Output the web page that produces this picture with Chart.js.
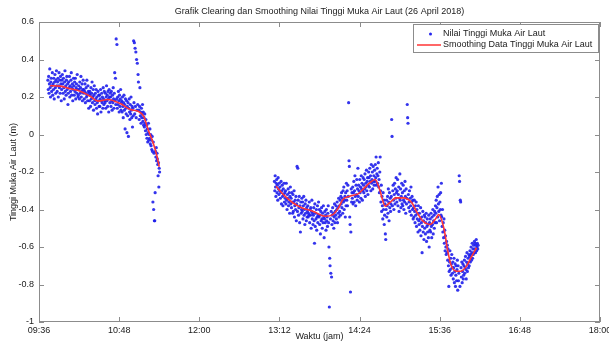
<!DOCTYPE html>
<html>
<head>
<meta charset="utf-8">
<script src="https://cdn.jsdelivr.net/npm/chart.js@4.4.1/dist/chart.umd.min.js"></script>
<style>
html, body { margin: 0; padding: 0; background: #fff; }
#wrap { width: 609px; height: 344px; }
</style>
</head>
<body>
<div id="wrap"><canvas id="chart" width="609" height="344"></canvas></div>
<script>
// tick labels
const xTickLabels = ['09:36', '10:48', '12:00', '13:12', '14:24', '15:36', '16:48', '18:00'];
const yTickLabels = ['-1', '-0.8', '-0.6', '-0.4', '-0.2', '0', '0.2', '0.4', '0.6'];

// raw sea level readings (cm), one every 20 s
const seg1Start = '09:44:00';
const seg1Cm = [
    29,24,31,22,27,35,25,20,28,30,23,26,33,21,27,
    24,30,19,28,32,25,22,29,34,26,
    23,28,30,20,26,33,25,29,22,31,27,18,24,29,32,
    27,22,30,25,19,28,34,23,26,21,29,31,24,27,16,
    22,28,25,31,20,26,23,29,33,21,25,27,18,24,30,
    26,21,28,23,30,19,25,27,22,32,24,20,
    21,26,24,19,28,22,25,31,20,23,27,18,24,29,22,
    24,19,23,27,17,22,25,20,29,21,18,26,23,14,22,
    18,23,21,15,25,19,22,28,17,20,24,13,21,26,18,
    16,22,19,24,14,20,17,11,23,18,21,15,
    21,15,19,24,12,18,22,17,20,14,25,19,16,23,18,
    17,22,14,20,26,18,21,15,23,19,12,24,20,17,22,
    20,15,23,18,13,21,17,25,19,14,22,33,18,30,16,
    51,19,48,14,20,16,23,18,12,21,15,19,24,13,17,
    18,12,20,15,9,17,21,13,16,3,19,14,11,18,1,
    15,10,17,-1,14,19,12,8,16,11,20,13,9,15,4,
    14,10,50,17,49,11,46,15,44,9,40,13,38,16,32,
    28,13,8,15,25,10,12,6,14,9,11,16,7,12,5,
    9,4,11,6,2,8,0,5,-2,3,-4,1,6,-3,0,
    -2,3,-5,0,-6,-3,-8,-1,-9,-36,-4,-40,-10,-46,-46,
    -31,-9,-12,-7,-14,-10,-13,-16,-22,-15,-28,-18,-20
];

const seg2Start = '13:07:30';
const seg2Cm = [
    -25,-30,-22,-28,-33,-26,-24,-31,-27,-35,-23,-29,-32,-26,-30,
    -28,-34,-31,-25,-37,-30,-27,-33,-38,-29,-32,-26,-36,-31,-34,
    -30,-37,-26,-35,-40,-32,-34,-29,-38,-36,-31,-42,-33,-28,-37,
    -34,-39,-31,-36,-42,-32,-41,-36,-30,-44,-38,-35,-40,-33,-46,
    -37,-17,-41,-18,-35,-43,-39,-33,-47,-38,-52,-36,-42,-40,-34,
    -41,-36,-45,-38,-33,-43,-40,-48,-37,-42,-35,-46,-39,-44,-41,
    -38,-44,-42,-43,-36,-47,-40,-43,-39,-50,-41,-35,-45,-42,-48,
    -43,-39,-46,-58,-37,-49,-42,-45,-40,-51,-44,-38,-47,-43,-36,
    -44,-40,-48,-43,-53,-41,-46,-39,-45,-50,-42,-47,-38,-44,-55,
    -45,-41,-47,-43,-51,-40,-46,-44,-49,-42,-38,-47,-60,-92,-66,
    -70,-45,-74,-41,-76,-48,-43,-39,-46,-42,-50,-44,-37,-47,-41,
    -43,-38,-45,-40,-36,-47,-39,-42,-34,-44,-38,-41,-35,-43,-33,
    -37,-31,-39,-34,-42,-30,-36,-28,-40,-35,-33,-44,-31,-38,-26,
    -35,-30,-38,-27,-33,17,-14,-17,-44,-48,-84,-52,-29,-36,-31,
    -34,-28,-37,-31,-25,-36,-30,-22,-33,-38,-27,-32,-24,-35,-29,
    -18,-33,-27,-30,-36,-24,-31,-28,-34,-22,-29,-26,-35,-30,-23,
    -27,-31,-24,-29,-21,-33,-26,-28,-19,-30,-25,-23,-32,-27,-20,
    -23,-28,-18,-25,-22,-30,-16,-26,-24,-20,-29,-17,-25,-22,-27,
    -19,-25,-16,-23,-12,-27,-21,-18,-26,-22,-15,-28,-24,-31,-20,
    -12,-30,-36,-27,-41,-33,-38,-45,-31,-40,-35,-48,-43,-37,-53,
    -56,-40,-35,-44,-38,-33,-42,-29,-36,-46,-31,-39,-34,-41,-37,
    -33,8,-1,-38,-30,-27,-35,-40,-32,-26,-37,-29,-34,-23,-31,
    -36,-30,-24,-38,-32,-28,-41,-34,-21,-35,-29,-39,-33,-26,-37,
    -31,-38,-27,-35,-40,-30,-36,-25,-33,-42,-29,-37,-34,16,9,
    6,-32,-39,-36,-30,-41,-34,-38,-28,-43,-36,-33,-40,-35,-45,
    -39,-44,-35,-41,-47,-38,-43,-36,-49,-40,-45,-42,-52,-38,-46,
    -48,-42,-51,-45,-39,-54,-47,-44,-63,-49,-41,-52,-46,-56,-43,
    -50,-44,-53,-47,-42,-57,-49,-45,-52,-48,-55,-43,-60,-47,-51,
    -45,-52,-42,-49,-55,-44,-48,-40,-53,-46,-43,-50,-41,-47,-38,
    -42,-35,-47,-39,-33,-44,-28,-37,-41,-32,-46,-36,-40,-31,-43,
    -26,-44,-49,-40,-52,-47,-55,-45,-58,-51,-62,-54,-60,-64,-57,
    -63,-59,-67,-61,-70,-81,-73,-68,-62,-72,-66,-75,-69,-64,-71,
    -74,-68,-77,-71,-66,-79,-73,-69,-81,-75,-70,-78,-72,-67,-83,
    -70,-78,-74,-22,-25,-81,-35,-36,-71,-76,-68,-79,-73,-69,-77,
    -75,-70,-67,-74,-71,-65,-72,-77,-68,-63,-73,-69,-66,-71,-64,
    -70,-65,-62,-68,-64,-60,-67,-63,-58,-66,-61,-64,-59,-63,-57,
    -61,-58,-63,-59,-56,-62,-60,-58,-61,-59
];

// smoothed curve (m)
const smooth1Time = ['09:46','09:55','10:04','10:13','10:22','10:29','10:38','10:49','10:58','11:05','11:10','11:14','11:19','11:22','11:24'];
const smooth1Val = [0.260, 0.258, 0.244, 0.231, 0.204, 0.178, 0.187, 0.165, 0.133, 0.124, 0.098, 0.027, -0.053, -0.116, -0.172];
const smooth2Time = ['13:09','13:17','13:24','13:32','13:42','13:53','14:00','14:05','14:09','14:15','14:23','14:27','14:33','14:38','14:42','14:47','14:51',
                     '14:57','15:03','15:11','15:15','15:21','15:27','15:33','15:35','15:40','15:43','15:46','15:51','15:55','16:00','16:04','16:09'];
const smooth2Val = [-0.276, -0.329, -0.364, -0.391, -0.409, -0.436, -0.427, -0.391, -0.347, -0.329, -0.315, -0.293, -0.258, -0.240, -0.293, -0.382, -0.364,
                    -0.338, -0.338, -0.364, -0.409, -0.462, -0.480, -0.444, -0.427, -0.507, -0.613, -0.693, -0.729, -0.729, -0.702, -0.658, -0.604];

const FONT = "'Liberation Sans', Arial, sans-serif";

function toMin(s) {
    const p = s.split(':').map(Number);
    return p[0] * 60 + p[1] + (p[2] || 0) / 60;
}

function rawPoints(start, cm) {
    const t0 = toMin(start);
    return cm.map((v, i) => ({ x: t0 + i / 3, y: v / 100 }));
}

function curvePoints(times, vals) {
    return times.map((t, i) => ({ x: toMin(t), y: vals[i] }));
}

// gap between the two segments -> null point so the line breaks
const rawData = rawPoints(seg1Start, seg1Cm).concat(rawPoints(seg2Start, seg2Cm));
const smoothData = curvePoints(smooth1Time, smooth1Val).concat([{ x: 760, y: null }], curvePoints(smooth2Time, smooth2Val));

const frame = {
    id: 'frame',
    afterDraw(chart) {
        const { ctx, chartArea: a, scales: { x, y } } = chart;
        ctx.save();
        ctx.strokeStyle = '#8c8c8c';
        ctx.lineWidth = 1;
        ctx.strokeRect(a.left + 0.5, a.top + 0.5, a.right - a.left - 1, a.bottom - a.top - 1);
        ctx.beginPath();
        x.ticks.forEach(t => {
            const px = Math.round(x.getPixelForValue(t.value)) + 0.5;
            ctx.moveTo(px, a.bottom); ctx.lineTo(px, a.bottom - 5);
            ctx.moveTo(px, a.top); ctx.lineTo(px, a.top + 5);
        });
        y.ticks.forEach(t => {
            const py = Math.round(y.getPixelForValue(t.value)) + 0.5;
            ctx.moveTo(a.left, py); ctx.lineTo(a.left + 5, py);
            ctx.moveTo(a.right, py); ctx.lineTo(a.right - 5, py);
        });
        ctx.stroke();

        // texts
        ctx.fillStyle = '#1a1a1a';
        ctx.textAlign = 'center';
        ctx.textBaseline = 'middle';
        ctx.font = '9px ' + FONT;
        const cx = (a.left + a.right) / 2;
        ctx.fillText('Grafik Clearing dan Smoothing Nilai Tinggi Muka Air Laut (26 April 2018)', cx, 12);
        ctx.fillText('Waktu (jam)', cx, 337);
        ctx.save();
        ctx.translate(14, (a.top + a.bottom) / 2);
        ctx.rotate(-Math.PI / 2);
        ctx.fillText('Tinggi Muka Air Laut (m)', 0, 0);
        ctx.restore();

        // legend
        const lx = 413, ly = 24, lw = 185, lh = 28;
        ctx.fillStyle = '#fff';
        ctx.fillRect(lx, ly, lw, lh);
        ctx.strokeStyle = '#8c8c8c';
        ctx.strokeRect(lx + 0.5, ly + 0.5, lw, lh);
        ctx.fillStyle = '#2424ee';
        ctx.beginPath();
        ctx.arc(430.5, 34, 1.5, 0, Math.PI * 2);
        ctx.fill();
        ctx.strokeStyle = '#ff3535';
        ctx.lineWidth = 1.5;
        ctx.beginPath();
        ctx.moveTo(417, 45); ctx.lineTo(441, 45);
        ctx.stroke();
        ctx.fillStyle = '#1a1a1a';
        ctx.textAlign = 'left';
        ctx.fillText('Nilai Tinggi Muka Air Laut', 443, 34);
        ctx.fillText('Smoothing Data Tinggi Muka Air Laut', 443, 45);
        ctx.restore();
    }
};

new Chart(document.getElementById('chart'), {
    type: 'scatter',
    data: {
        datasets: [
            {
                label: 'Nilai Tinggi Muka Air Laut',
                data: rawData,
                pointRadius: 1.6,
                pointBorderWidth: 0,
                pointBackgroundColor: 'rgba(30,30,235,0.9)',
                order: 2
            },
            {
                label: 'Smoothing Data Tinggi Muka Air Laut',
                data: smoothData,
                showLine: true,
                spanGaps: false,
                pointRadius: 0,
                borderColor: '#ff3535',
                borderWidth: 1.6,
                cubicInterpolationMode: 'monotone',
                order: 1
            }
        ]
    },
    options: {
        responsive: false,
        animation: false,
        devicePixelRatio: 1,
        layout: { padding: { top: 22, right: 9, left: 0, bottom: 0 } },
        plugins: { legend: { display: false }, tooltip: { enabled: false } },
        scales: {
            x: {
                type: 'linear',
                min: 576, max: 1080,
                grid: { display: false, drawTicks: false },
                border: { display: false },
                ticks: {
                    stepSize: 72, padding: 3, autoSkip: false, maxRotation: 0,
                    color: '#1a1a1a', font: { family: FONT, size: 9 },
                    callback: (v, i) => xTickLabels[i]
                },
                afterFit(s) { s.height = 22; s.paddingLeft = 0; s.paddingRight = 0; }
            },
            y: {
                min: -1, max: 0.6,
                grid: { display: false, drawTicks: false },
                border: { display: false },
                ticks: {
                    stepSize: 0.2, padding: 5, autoSkip: false,
                    color: '#1a1a1a', font: { family: FONT, size: 9 },
                    callback: (v, i) => yTickLabels[i]
                },
                afterFit(s) { s.width = 39; s.paddingTop = 0; s.paddingBottom = 0; }
            }
        }
    },
    plugins: [frame]
});
</script>
</body>
</html>
